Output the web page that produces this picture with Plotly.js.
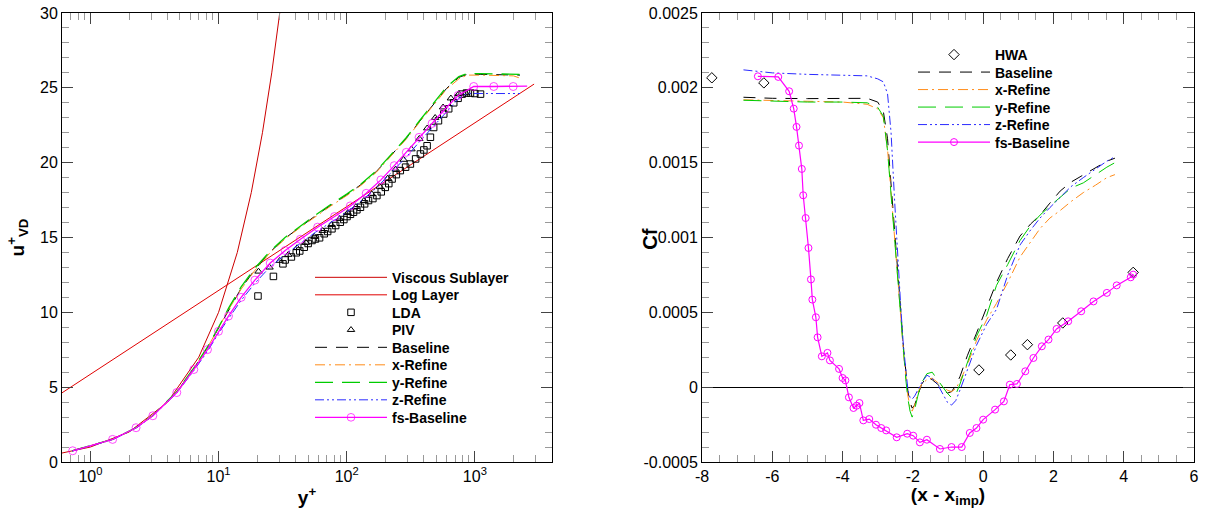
<!DOCTYPE html>
<html><head><meta charset="utf-8">
<script src="https://cdn.plot.ly/plotly-3.0.1.min.js"></script>
<style>html,body{margin:0;padding:0;background:#fff;} #chart{width:1206px;height:508px;}</style>
</head><body><div id="chart"></div>
<script>
// ---------------- Left panel: velocity profile ----------------
const viscousYp = [0.6, 1, 2, 4, 7, 10, 14, 18, 22, 26, 30];
const viscousU  = [0.6, 1, 2, 4, 7, 10, 14, 18, 22, 26, 30];
const logLayerYp = [0.6, 2900];
const logLayerU  = [4.62, 25.25];

const ldaYp = [20.3, 26.8, 31.8, 33.1, 37, 40.4, 43, 46.6, 50, 53.6, 57, 61.4, 66.8, 71, 76.7, 82, 89.1, 95, 100.5, 107, 113, 120, 128, 138, 148, 160, 172, 186, 200, 213, 226, 244, 262, 288, 314, 345, 376, 400, 424, 450, 477, 520, 572, 625, 684, 740, 796, 860, 924, 1000, 1107];
const ldaU  = [11.09, 12.4, 13.24, 13.5, 13.7, 13.98, 14.1, 14.35, 14.6, 14.8, 14.9, 14.98, 15.25, 15.4, 15.58, 15.8, 16.02, 16.2, 16.4, 16.55, 16.69, 16.85, 17.02, 17.25, 17.47, 17.6, 17.8, 18.05, 18.35, 18.6, 18.91, 19.2, 19.47, 19.7, 19.91, 20.25, 20.58, 20.85, 21.13, 21.7, 22.35, 22.8, 23.25, 23.6, 24.0, 24.3, 24.58, 24.65, 24.65, 24.62, 24.58];
const pivYp = [20.5, 25, 30, 35, 41, 48, 56, 65, 76, 88, 102, 118, 136, 157, 181, 209, 241, 278, 320, 369, 425, 490, 565, 650, 750, 850];
const pivU  = [12.73, 13.0, 13.45, 13.85, 14.3, 14.65, 15.05, 15.45, 15.85, 16.25, 16.65, 17.05, 17.45, 17.9, 18.4, 18.95, 19.55, 20.2, 20.9, 21.6, 22.3, 23.0, 23.7, 24.3, 24.6, 24.65];

const cfdYp = [0.72, 1.49, 2.27, 3.07, 4.7, 6.4, 8.2, 10, 12, 15, 19, 25, 33, 43, 57, 75, 100, 130, 170, 220, 290, 370, 470, 600, 750, 870, 1100, 1500, 2000, 2250];
const uBaseline = [0.75, 1.51, 2.29, 3.1, 4.66, 6.25, 7.65, 8.95, 10.2, 11.6, 12.8, 14.0, 14.95, 15.7, 16.45, 17.15, 17.85, 18.55, 19.4, 20.45, 21.6, 22.75, 23.85, 24.95, 25.7, 25.9, 25.9, 25.9, 25.9, 25.85];
const uXRefine  = [0.75, 1.51, 2.29, 3.1, 4.66, 6.25, 7.65, 8.95, 10.2, 11.55, 12.75, 13.95, 14.9, 15.65, 16.4, 17.1, 17.8, 18.5, 19.35, 20.4, 21.55, 22.7, 23.8, 24.9, 25.6, 25.85, 25.85, 25.85, 25.8, 25.65];
const uYRefine  = [0.75, 1.51, 2.3, 3.11, 4.68, 6.28, 7.7, 9.0, 10.3, 11.7, 12.9, 14.05, 15.0, 15.75, 16.5, 17.2, 17.9, 18.6, 19.45, 20.5, 21.65, 22.8, 23.95, 25.05, 25.75, 25.95, 25.95, 25.95, 25.95, 25.9];
const uZRefine  = [0.73, 1.49, 2.27, 3.07, 4.6, 6.1, 7.4, 8.6, 9.6, 10.8, 11.9, 13.0, 13.85, 14.6, 15.35, 16.0, 16.7, 17.45, 18.3, 19.3, 20.35, 21.4, 22.4, 23.4, 24.3, 24.62, 24.62, 24.62, 24.62, 24.62];
const fsYp = [0.727, 1.49, 2.27, 3.07, 4.72, 6.41, 8.19, 9.98, 11.95, 15.0, 19.2, 25.3, 33.1, 43.5, 59.3, 80.4, 106.7, 142, 185, 235, 292, 367, 464, 580, 741, 980, 1405, 1992, 2560];
const fsU  = [0.75, 1.51, 2.29, 3.09, 4.64, 6.18, 7.51, 8.73, 9.75, 11.0, 12.15, 13.29, 14.13, 14.88, 15.69, 16.4, 17.11, 17.95, 18.85, 19.8, 20.69, 21.69, 22.62, 23.55, 24.49, 25.09, 25.09, 25.09, 25.12];

const leftXTickVals = [1, 10, 100, 1000];
const leftXTickText = ['10<sup>0</sup>', '10<sup>1</sup>', '10<sup>2</sup>', '10<sup>3</sup>'];

// ---------------- Right panel: skin friction ----------------
const hwaX  = [-7.72, -6.24, -0.12, 0.785, 1.26, 2.265, 4.27];
const hwaCf = [0.002067, 0.002033, 0.000115, 0.000215, 0.000284, 0.000429, 0.000767];

const cfX = [-6.82, -6.0, -5.0, -4.0, -3.3, -3.0, -2.84, -2.72, -2.62, -2.52, -2.42, -2.34, -2.27, -2.2, -2.14, -2.08, -2.02, -1.95, -1.86, -1.75, -1.6, -1.45, -1.3, -1.15, -1.02, -0.9, -0.78, -0.66, -0.45, -0.19, 0.1, 0.38, 0.7, 1.05, 1.35, 1.62, 1.9, 2.19, 2.5, 2.85, 3.2, 3.52, 3.75];
const cfBaseline = [0.001937, 0.00193, 0.001928, 0.001928, 0.00193, 0.001905, 0.001843, 0.00166, 0.00137, 0.00107, 0.00076, 0.0005, 0.00027, 0.0001, -0.00003, -0.0001, -0.00014, -0.00012, -0.00005, 0.00002, 0.00007, 0.00005, 0.00002, -0.00001, -0.00004, -0.00003, 0.00001, 0.00007, 0.00021, 0.00036, 0.00053, 0.0007, 0.00086, 0.00101, 0.00109, 0.00115, 0.00123, 0.00131, 0.00137, 0.00142, 0.00147, 0.00151, 0.00153];
const cfXRefine  = [0.00192, 0.001915, 0.00191, 0.001905, 0.00189, 0.00186, 0.0018, 0.00159, 0.0013, 0.00102, 0.00072, 0.00046, 0.00024, 0.00007, -0.00006, -0.00013, -0.00016, -0.00012, -0.00004, 0.00002, 0.00005, 0.00006, 0.00003, 0.0, -0.00002, -0.00003, -0.00001, 0.00004, 0.00015, 0.00031, 0.00045, 0.00056, 0.0007, 0.00087, 0.00097, 0.00106, 0.00113, 0.00118, 0.00124, 0.0013, 0.00135, 0.0014, 0.00142];
const cfYRefine  = [0.001917, 0.00191, 0.001905, 0.001905, 0.0019, 0.00187, 0.00181, 0.00158, 0.00128, 0.00098, 0.00068, 0.00043, 0.00022, 0.00005, -0.00008, -0.00016, -0.0002, -0.00015, -0.00006, 0.00003, 0.00009, 0.0001, 0.00005, 0.0, -0.00004, -0.00007, -0.00005, 0.00002, 0.00016, 0.00034, 0.00048, 0.00068, 0.00082, 0.00098, 0.00108, 0.00115, 0.00121, 0.00127, 0.00133, 0.001365, 0.00142, 0.00147, 0.0015];
const cfZRefine  = [0.00212, 0.0021, 0.00209, 0.002085, 0.00208, 0.00206, 0.00204, 0.00196, 0.0017, 0.00125, 0.00082, 0.00052, 0.00028, 0.0001, -0.00002, -0.00007, -0.00008, -0.00006, -0.00002, 0.00003, 0.00008, 0.00006, 0.00002, -0.00004, -0.0001, -0.00012, -0.00009, -0.00002, 0.00012, 0.00028, 0.00042, 0.00052, 0.00075, 0.00095, 0.00105, 0.00113, 0.0012, 0.00127, 0.00134, 0.0014, 0.00146, 0.00151, 0.00154];
const fsX  = [-6.41, -5.83, -5.52, -5.39, -5.31, -5.24, -5.16, -5.12, -5.05, -4.97, -4.9, -4.86, -4.76, -4.71, -4.59, -4.43, -4.36, -4.1, -4.0, -3.92, -3.82, -3.69, -3.6, -3.52, -3.41, -3.24, -3.05, -2.9, -2.76, -2.46, -2.16, -1.99, -1.8, -1.6, -1.23, -0.9, -0.61, -0.38, -0.19, 0.0, 0.34, 0.59, 0.76, 0.96, 1.2, 1.43, 1.67, 1.86, 2.09, 2.42, 2.79, 3.14, 3.52, 3.8, 4.2, 4.27];
const fsCf = [0.002077, 0.002073, 0.001977, 0.001861, 0.001739, 0.001614, 0.001458, 0.001282, 0.00113, 0.00093, 0.00072, 0.000585, 0.000467, 0.000333, 0.000206, 0.000229, 0.000179, 0.000122, 0.0000615, 0.0000455, -0.000068, -0.000139, -0.000124, -0.000106, -0.000222, -0.000213, -0.000251, -0.000273, -0.000289, -0.000335, -0.000311, -0.000324, -0.000369, -0.000351, -0.000413, -0.0004, -0.0004, -0.000306, -0.000273, -0.000217, -0.00015, -0.000095, 0.0000167, 0.0000214, 0.000106, 0.000195, 0.000273, 0.000318, 0.000389, 0.00044, 0.000507, 0.000573, 0.00063, 0.00068, 0.000734, 0.000752];

const rightXTickVals = [-8, -6, -4, -2, 0, 2, 4, 6];
const rightXTickText = ['-8', '-6', '-4', '-2', '0', '2', '4', '6'];
const rightYTickVals = [-0.0005, 0, 0.0005, 0.001, 0.0015, 0.002, 0.0025];
const rightYTickText = ['-0.0005', '0', '0.0005', '0.001', '0.0015', '0.002', '0.0025'];

// ---------------- styling ----------------
const FONT = 'Liberation Sans, Arial, Helvetica, sans-serif';
const W = 1206, H = 508;
const M = {l: 62, r: 12, t: 13, b: 45.5};
const PW = W - M.l - M.r, PH = H - M.t - M.b;
const fx = px => (px - M.l) / PW;          // page pixel -> paper x
const fy = py => (H - M.b - py) / PH;      // page pixel -> paper y

const C = {base: '#000000', xr: '#ff8c1a', yr: '#00cc00', zr: '#2b2bff', fs: '#ff00ff'};
const DASH = {base: '12px,9px', xr: '10px,4px,2px,4px', yr: '18px,9px', zr: '9px,3px,2px,3px,2px,3px'};

const leftMinor = [];
[0.1, 1, 10, 100, 1000].forEach(d => { for (let k = 2; k <= 9; k++) leftMinor.push(k * d); });

function lt(x, y, name, color, dash, width) {
  return {x, y, name, type: 'scatter', mode: 'lines', xaxis: 'x', yaxis: 'y', legend: 'legend',
          line: {color, dash, width: width || 1}};
}
function rt(x, y, name, color, dash, width) {
  return {x, y, name, type: 'scatter', mode: 'lines', xaxis: 'x2', yaxis: 'y2', legend: 'legend2',
          line: {color, dash, width: width || 1}};
}

const traces = [
  lt(viscousYp, viscousU, 'Viscous Sublayer', '#cc0000', 'solid', 1),
  lt(logLayerYp, logLayerU, 'Log Layer', '#e00000', 'solid', 1),
  {x: ldaYp, y: ldaU, name: 'LDA', type: 'scatter', mode: 'markers', xaxis: 'x', yaxis: 'y', legend: 'legend',
   marker: {symbol: 'square-open', size: 6.5, color: '#000', line: {width: 1}}},
  {x: pivYp, y: pivU, name: 'PIV', type: 'scatter', mode: 'markers', xaxis: 'x', yaxis: 'y', legend: 'legend',
   marker: {symbol: 'triangle-up-open', size: 6.5, color: '#000', line: {width: 1}}},
  lt(cfdYp, uBaseline, 'Baseline', C.base, DASH.base, 1),
  lt(cfdYp, uXRefine, 'x-Refine', C.xr, DASH.xr, 1),
  lt(cfdYp, uYRefine, 'y-Refine', C.yr, DASH.yr, 1.3),
  lt(cfdYp, uZRefine, 'z-Refine', C.zr, DASH.zr, 1),
  {x: fsYp, y: fsU, name: 'fs-Baseline', type: 'scatter', mode: 'lines+markers', xaxis: 'x', yaxis: 'y', legend: 'legend',
   line: {color: C.fs, width: 1.3},
   marker: {symbol: 'circle-open', size: fsU.map((v, i) => i === fsU.length - 1 ? 0 : 8), color: C.fs, line: {width: 1}}},

  {x: hwaX, y: hwaCf, name: 'HWA', type: 'scatter', mode: 'markers', xaxis: 'x2', yaxis: 'y2', legend: 'legend2',
   marker: {symbol: 'diamond-open', size: 8, color: '#000', line: {width: 1}}},
  rt(cfX, cfBaseline, 'Baseline', C.base, DASH.base, 1),
  rt(cfX, cfXRefine, 'x-Refine', C.xr, DASH.xr, 1),
  rt(cfX, cfYRefine, 'y-Refine', C.yr, DASH.yr, 1),
  rt(cfX, cfZRefine, 'z-Refine', C.zr, DASH.zr, 1),
  {x: fsX, y: fsCf, name: 'fs-Baseline', type: 'scatter', mode: 'lines+markers', xaxis: 'x2', yaxis: 'y2', legend: 'legend2',
   line: {color: C.fs, width: 1.2},
   marker: {symbol: 'circle-open', size: 7, color: C.fs, line: {width: 1}}}
];

const axBase = {
  showline: true, linecolor: '#000', linewidth: 1, mirror: 'allticks', showgrid: false, zeroline: false,
  ticks: 'inside', ticklen: 11, tickwidth: 1, tickcolor: '#444',
  tickfont: {family: FONT, size: 16, color: '#000'}
};
const minorBase = {ticks: 'inside', ticklen: 7, tickwidth: 1, tickcolor: '#999', showgrid: false};
const titleFont = {family: FONT, size: 19, weight: 'bold', color: '#000'};

const layout = {
  width: W, height: H, margin: M,
  paper_bgcolor: '#fff', plot_bgcolor: '#fff',
  font: {family: FONT, size: 16, color: '#000'},
  showlegend: true,
  xaxis: Object.assign({}, axBase, {
    type: 'log', domain: [fx(62), fx(552)], range: [Math.log10(0.6), Math.log10(4000)], anchor: 'y',
    tickmode: 'array', tickvals: leftXTickVals, ticktext: leftXTickText,
    minor: Object.assign({}, minorBase, {tickmode: 'array', tickvals: leftMinor}),
    title: {text: 'y<sup>+</sup>', font: titleFont, standoff: 6}
  }),
  yaxis: Object.assign({}, axBase, {
    domain: [0, 1], range: [0, 30], anchor: 'x', tickmode: 'linear', tick0: 0, dtick: 5,
    minor: Object.assign({}, minorBase, {tickmode: 'linear', tick0: 0, dtick: 1}),
    title: {text: 'u<sup>+</sup><sub>VD</sub>', font: titleFont, standoff: 10}
  }),
  xaxis2: Object.assign({}, axBase, {
    domain: [fx(702), fx(1194)], range: [-8, 6], anchor: 'y2',
    tickmode: 'array', tickvals: rightXTickVals, ticktext: rightXTickText,
    minor: Object.assign({}, minorBase, {tickmode: 'linear', tick0: 0, dtick: 0.5}),
    title: {text: '(x - x<sub>imp</sub>)', font: titleFont, standoff: 6}
  }),
  yaxis2: Object.assign({}, axBase, {
    domain: [0, 1], range: [-0.0005, 0.0025], anchor: 'x2',
    tickmode: 'array', tickvals: rightYTickVals, ticktext: rightYTickText,
    zeroline: true, zerolinecolor: '#000', zerolinewidth: 1,
    minor: Object.assign({}, minorBase, {tickmode: 'linear', tick0: 0, dtick: 0.0001})
  }),
  legend: {x: fx(310), y: fy(262), xanchor: 'left', yanchor: 'top', bgcolor: 'rgba(0,0,0,0)',
           borderwidth: 0, itemwidth: 72, tracegroupgap: 0,
           font: {family: FONT, size: 14, weight: 'bold', color: '#000'}},
  legend2: {x: fx(913), y: fy(39), xanchor: 'left', yanchor: 'top', bgcolor: 'rgba(0,0,0,0)',
            borderwidth: 0, itemwidth: 72, tracegroupgap: 0,
            font: {family: FONT, size: 14, weight: 'bold', color: '#000'}},
  annotations: [{text: 'Cf', xref: 'paper', yref: 'paper', x: fx(650), y: fy(240),
                 xanchor: 'center', yanchor: 'middle', textangle: -90, showarrow: false,
                 font: {family: FONT, size: 20, weight: 'bold', color: '#000'}}]
};

const ROW = 17.5;
function tidyLegends(gd) {
  gd.querySelectorAll('g.legend, g.legend2').forEach(leg => {
    const items = leg.querySelectorAll('g.traces');
    let y0 = null;
    items.forEach((it, i) => {
      const m = /translate\(\s*([-\d.e]+)[ ,]+([-\d.e]+)\s*\)/.exec(it.getAttribute('transform') || '');
      if (!m) return;
      if (y0 === null) y0 = parseFloat(m[2]);
      it.setAttribute('transform', 'translate(' + m[1] + ',' + (y0 + i * ROW) + ')');
    });
  });
}

Plotly.newPlot('chart', traces, layout, {displayModeBar: false, staticPlot: true}).then(gd => tidyLegends(gd));
</script></body></html>
